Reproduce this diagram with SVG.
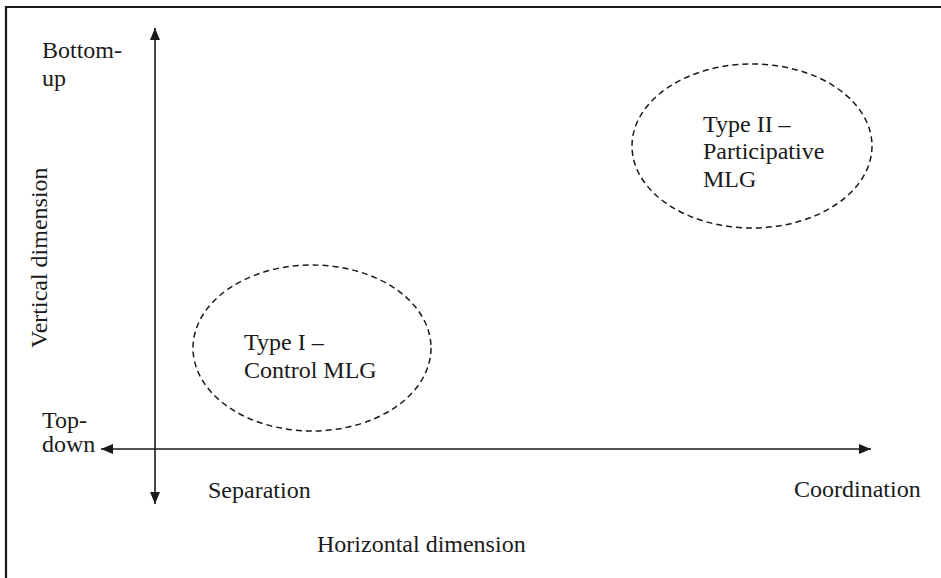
<svg xmlns="http://www.w3.org/2000/svg" width="941" height="578" viewBox="0 0 941 578">
<defs>
<marker id="arr" markerWidth="12" markerHeight="10" refX="12" refY="5" orient="auto-start-reverse" markerUnits="userSpaceOnUse">
<path d="M0,0 L12,5 L0,10 Z" fill="#1a1a1a"/>
</marker>
<style>
text{font-family:"Liberation Serif","Times New Roman",serif;font-size:24px;fill:#1a1a1a}
.ax{stroke:#1a1a1a;stroke-width:1.6;fill:none}
.ell{stroke:#1a1a1a;stroke-width:1.5;fill:none;stroke-dasharray:6,4}
</style>
</defs>
<rect width="941" height="578" fill="#fff"/>
<path d="M6,578 V7 H941" fill="none" stroke="#1a1a1a" stroke-width="2.2"/>
<g id="connectors">
<line class="ax" x1="155" y1="504" x2="155" y2="28" marker-start="url(#arr)" marker-end="url(#arr)"/>
<line class="ax" x1="101" y1="449" x2="871" y2="449" marker-start="url(#arr)" marker-end="url(#arr)"/>
</g>
<g id="type1">
<ellipse class="ell" cx="312" cy="348" rx="119" ry="83"/>
<text x="244" y="350">Type I –</text>
<text x="244" y="378">Control MLG</text>
</g>
<g id="type2">
<ellipse class="ell" cx="752" cy="146" rx="120" ry="82"/>
<text x="703" y="132">Type II –</text>
<text x="703" y="159">Participative</text>
<text x="703" y="187">MLG</text>
</g>
<g id="labels">
<text x="42" y="58">Bottom-</text>
<text x="42" y="86">up</text>
<text x="42" y="428">Top-</text>
<text x="42" y="452">down</text>
<text x="208" y="498">Separation</text>
<text x="794" y="497">Coordination</text>
<text x="317" y="552">Horizontal dimension</text>
<text transform="translate(47,348) rotate(-90)">Vertical dimension</text>
</g>
</svg>
